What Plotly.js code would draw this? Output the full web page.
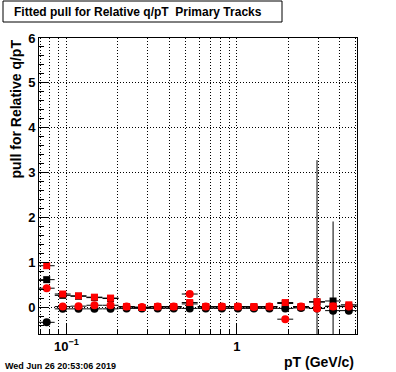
<!DOCTYPE html>
<html>
<head>
<meta charset="utf-8">
<script src="https://cdn.plot.ly/plotly-3.0.1.min.js"></script>
<style>html,body{margin:0;padding:0;background:#fff;}#chart{width:396px;height:372px;}</style>
</head>
<body>
<div id="chart"></div>
<script>
// ---- data ----
const pT = [0.0766,0.0951,0.1177,0.146,0.1815,0.2254,0.2773,0.343,0.426,0.529,0.657,0.816,1.014,1.259,1.553,1.923,2.379,2.954,3.67,4.54];
const blackSquare    = [0.62,0.27,0.25,0.22,0.20,0.01,0.00,0.01,0.01,0.08,0.01,0.01,0.01,0.01,0.01,0.09,0.01,0.12,0.145,0.03];
const blackSquareErr = [0,0,0,0,0,0,0,0,0,0,0,0,0,0,0,0,0,3.16,1.77,0];
const blackCircle    = [-0.33,-0.03,-0.03,-0.03,-0.03,-0.02,-0.02,-0.02,-0.02,-0.02,-0.02,-0.02,-0.02,-0.02,-0.02,-0.02,-0.01,-0.02,-0.07,-0.07];
const redSquare      = [0.93,0.30,0.26,0.23,0.21,0.02,0.00,0.02,0.02,0.11,0.02,0.02,0.02,0.02,0.02,0.11,0.02,0.13,0.03,0.06];
const redCircle      = [0.43,0.02,0.03,0.05,0.05,0.02,0.01,0.02,0.02,0.30,0.02,0.02,0.02,0.01,0.02,-0.26,0.02,-0.02,0.02,0.02];
const xTickVals = [0.1, 1];
const xTickText = ['10<sup>\u22121</sup>', '1'];
const xMinorVals = [0.07,0.08,0.09,0.2,0.3,0.4,0.5,0.6,0.7,0.8,0.9,2,3,4,5];
const titleText = 'Fitted pull for Relative q/pT\u00a0 Primary Tracks';
const yTitleText = 'pull for Relative q/pT';
const xTitleText = 'pT (GeV/c)';
const dateText = 'Wed Jun 26 20:53:06 2019';

// horizontal error bars span the (log-spaced) bin
const halfBinLog = 0.0467;
const exPlus  = pT.map(v => v * (Math.pow(10, halfBinLog) - 1));
const exMinus = pT.map(v => v * (1 - Math.pow(10, -halfBinLog)));

const FONT = 'Liberation Sans, Arial, Helvetica, sans-serif';
const errX = {type:'data', symmetric:false, array:exPlus, arrayminus:exMinus, color:'#000', thickness:1, width:0};

function trace(y, color, symbol, size, errY) {
  const t = {
    x: pT, y: y, type: 'scatter', mode: 'markers',
    marker: {color: color, symbol: symbol, size: size, line: {width: 0}},
    error_x: errX,
    hoverinfo: 'skip', showlegend: false
  };
  if (errY) t.error_y = {type:'data', array: errY, color:'#000', thickness:1, width:0};
  return t;
}

const data = [
  trace(blackSquare, '#000', 'square', 7, blackSquareErr),
  trace(blackCircle, '#000', 'circle', 8),
  trace(redSquare, '#ff0000', 'square', 7),
  trace(redCircle, '#ff0000', 'circle', 8)
];

const L = 39, R = 39, T = 38, B = 38;
const W = 396, H = 372;
const pw = W - L - R, ph = H - T - B;
const px = v => (v - L) / pw;         // pixel x -> paper
const py = v => (H - B - v) / ph;     // pixel y -> paper

const layout = {
  width: W, height: H,
  margin: {l: L, r: R, t: T, b: B, pad: 0},
  paper_bgcolor: '#fff', plot_bgcolor: '#fff',
  showlegend: false,
  hovermode: false,
  font: {family: FONT, color: '#000', size: 13, weight: 'bold'},
  title: {
    text: titleText,
    font: {family: FONT, size: 12, color: '#000', weight: 'bold'},
    x: 14 / W, xref: 'container', xanchor: 'left',
    y: 1 - 12 / H, yref: 'container', yanchor: 'middle'
  },
  xaxis: {
    type: 'log',
    range: [-1.161, 0.705],
    showline: true, linecolor: '#000', linewidth: 1, mirror: true,
    ticks: 'inside', ticklen: 10, tickcolor: '#000', tickwidth: 1,
    tickmode: 'array', tickvals: xTickVals, ticktext: xTickText,
    tickfont: {family: FONT, size: 13, color: '#000', weight: 'bold'},
    showgrid: true, gridcolor: '#000', gridwidth: 1, griddash: '1px,2px',
    zeroline: false,
    minor: {tickmode: 'array', tickvals: xMinorVals, ticks: 'inside', ticklen: 5, tickcolor: '#000',
            showgrid: true, gridcolor: '#000', gridwidth: 1, griddash: '1px,2px'},
    fixedrange: true
  },
  yaxis: {
    range: [-0.59, 6.0],
    showline: true, linecolor: '#000', linewidth: 1, mirror: true,
    ticks: 'inside', ticklen: 10, tickcolor: '#000', tickwidth: 1,
    tickmode: 'linear', tick0: 0, dtick: 1,
    tickfont: {family: FONT, size: 13, color: '#000', weight: 'bold'},
    showgrid: true, gridcolor: '#000', gridwidth: 1, griddash: '1px,2px',
    zeroline: false,
    minor: {tickmode: 'linear', tick0: 0, dtick: 0.2, ticks: 'inside', ticklen: 5, tickcolor: '#000', showgrid: false},
    fixedrange: true
  },
  shapes: [{
    type: 'rect', xref: 'paper', yref: 'paper',
    x0: px(3), x1: px(282), y0: py(22), y1: py(1),
    line: {color: '#000', width: 1}, fillcolor: 'rgba(0,0,0,0)'
  }],
  annotations: [
    {text: xTitleText, xref: 'paper', yref: 'paper', x: px(356), y: py(362),
     xanchor: 'right', yanchor: 'middle', showarrow: false,
     font: {family: FONT, size: 14, color: '#000', weight: 'bold'}},
    {text: yTitleText, xref: 'paper', yref: 'paper', x: px(15), y: py(38),
     xanchor: 'center', yanchor: 'top', textangle: -90, showarrow: false,
     font: {family: FONT, size: 14, color: '#000', weight: 'bold'}},
    {text: dateText, xref: 'paper', yref: 'paper', x: px(3), y: py(366),
     xanchor: 'left', yanchor: 'middle', showarrow: false,
     font: {family: FONT, size: 9, color: '#000', weight: 'bold'}}
  ]
};

Plotly.newPlot('chart', data, layout, {displayModeBar: false, staticPlot: true});
</script>
</body>
</html>
